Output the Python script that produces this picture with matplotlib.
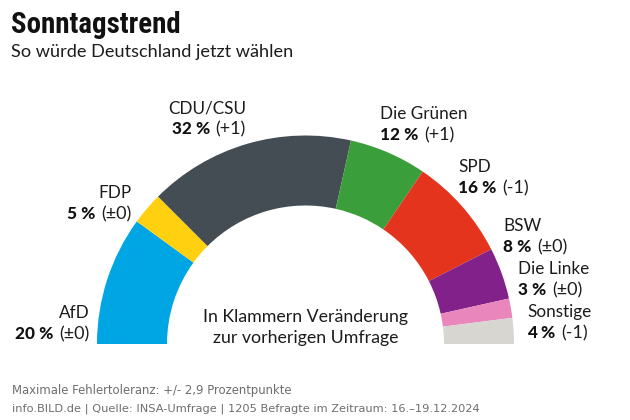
import matplotlib
matplotlib.use("Agg")
import matplotlib.pyplot as plt
from matplotlib.patches import Wedge
import logging
logging.getLogger("matplotlib.font_manager").setLevel(logging.ERROR)

parties = ["AfD", "FDP", "CDU/CSU", "Die Grünen", "SPD", "BSW", "Die Linke", "Sonstige"]
values = [20, 5, 32, 12, 16, 8, 3, 4]
changes = ["(±0)", "(±0)", "(+1)", "(+1)", "(-1)", "(±0)", "(±0)", "(-1)"]
colors = ["#00A5E3", "#FFD00F", "#434D53", "#3A9E3A", "#E5341E", "#83218A", "#E986BC", "#D8D6D1"]
# label anchor: x px, y px of the name baseline, alignment
anchors = [(90, 318, "right"), (132, 198, "right"), (246, 113, "right"), (380, 119, "left"),
           (458, 172, "left"), (503, 231, "left"), (518, 274, "left"), (527, 317, "left")]
LINE = 21

W, H = 630, 420
fig = plt.figure(figsize=(W / 100, H / 100), dpi=100, facecolor="white")
ax = fig.add_axes([0, 0, 1, 1])
ax.set_xlim(0, W)
ax.set_ylim(0, H)
ax.axis("off")

cx, cy, r_out, r_in = 305.5, H - 344, 208.5, 138.5
total = sum(values)
cum = 0
for v, c in zip(values, colors):
    t2 = 180 - cum / total * 180
    cum += v
    t1 = 180 - cum / total * 180
    ax.add_patch(Wedge((cx, cy), r_out, t1, t2, width=r_out - r_in, fc=c, ec="none"))

FONT = "Lato"
FS = 12.3
FS_CHG = 13
INK = "#1c1c1c"
BLACK = "#111111"
GAP = 6

def T(x, y, s, **kw):
    kw.setdefault("color", INK)
    return ax.text(x, H - y, s, va="baseline", **kw)

renderer = fig.canvas.get_renderer()

def width(t):
    return t.get_window_extent(renderer).width

T(11, 33, "Sonntagstrend", family=["Roboto Condensed", "Lato"], weight="black", fontsize=20.8, color=BLACK)
T(11, 57, "So würde Deutschland jetzt wählen", family=FONT, fontsize=13.1)

for name, val, chg, (x, y, ha) in zip(parties, values, changes, anchors):
    T(x, y, name, family=FONT, fontsize=FS, ha=ha)
    if ha == "right":
        t = T(x, y + LINE, chg, family=FONT, fontsize=FS_CHG, ha="right")
        T(x - width(t) - GAP, y + LINE, f"{val} %", family=FONT, weight="black",
          fontsize=FS, ha="right", color=BLACK)
    else:
        t = T(x, y + LINE, f"{val} %", family=FONT, weight="black", fontsize=FS, color=BLACK)
        T(x + width(t) + GAP, y + LINE, chg, family=FONT, fontsize=FS_CHG)

T(305.5, 322, "In Klammern Veränderung", family=FONT, fontsize=12.8, ha="center")
T(305.5, 343, "zur vorherigen Umfrage", family=FONT, fontsize=12.8, ha="center")

T(12, 394, "Maximale Fehlertoleranz: +/- 2,9 Prozentpunkte", family="DejaVu Sans", fontsize=8.4, color="#6e6e6e")
T(12, 412, "info.BILD.de | Quelle: INSA-Umfrage | 1205 Befragte im Zeitraum: 16.–19.12.2024",
  family="DejaVu Sans", fontsize=8.2, color="#6e6e6e")

fig.savefig("out.png", dpi=100, facecolor="white")
